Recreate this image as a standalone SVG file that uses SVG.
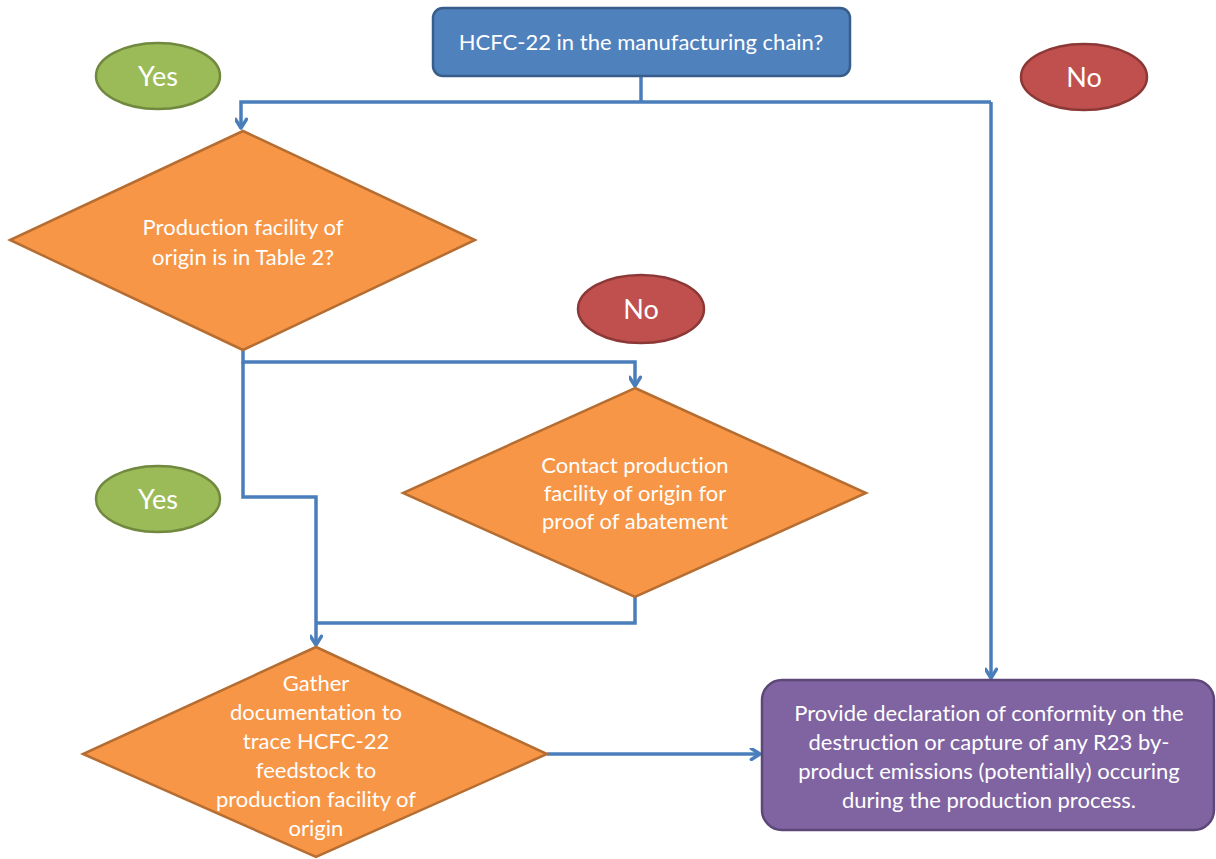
<svg xmlns="http://www.w3.org/2000/svg" width="1216" height="859" viewBox="0 0 1216 859">
<defs>
<marker id="arr" viewBox="0 0 12 12" refX="10" refY="6" markerWidth="13" markerHeight="13" markerUnits="userSpaceOnUse" orient="auto">
<path d="M2,1 L10,6 L2,11" fill="none" stroke="#4A7EBB" stroke-width="3.2" stroke-linecap="round" stroke-linejoin="round"/>
</marker>
</defs>
<style>
text{font-family:Lato,"Open Sans","Liberation Sans",sans-serif;fill:#fff;text-anchor:middle;font-variant-ligatures:none;font-feature-settings:"liga" 0}
.t{font-size:22px}
.lbl{font-size:27px}
.blue{fill:#4F81BD;stroke:#385D8A;stroke-width:2.5}
.dia{fill:#F79646;stroke:#B66D31;stroke-width:2.5}
.pur{fill:#8064A2;stroke:#5C4776;stroke-width:2.5}
.yes{fill:#9BBB59;stroke:#71893F;stroke-width:2.5}
.no{fill:#C0504D;stroke:#8C3836;stroke-width:2.5}
.c{fill:none;stroke:#4A7EBB;stroke-width:3.5;stroke-linejoin:miter}
</style>
<rect width="1216" height="859" fill="#fff"/>
<g id="connectors">
<path class="c" d="M641,76 V102"/>
<path class="c" d="M991,102 H241 V128" marker-end="url(#arr)"/>
<path class="c" d="M991,102 V678" marker-end="url(#arr)"/>
<path class="c" d="M243,350 V362 H635 V386" marker-end="url(#arr)"/>
<path class="c" d="M243,362 V497 H316 V645" marker-end="url(#arr)"/>
<path class="c" d="M635,597 V623 H316"/>
<path class="c" d="M547,754 H760" marker-end="url(#arr)"/>
</g>
<g id="start">
<rect class="blue" x="433" y="8" width="417" height="68" rx="10"/>
<text class="t" x="641" y="50">HCFC-22 in the manufacturing chain?</text>
</g>
<g id="yes1">
<ellipse class="yes" cx="158" cy="76" rx="62" ry="33"/>
<text class="lbl" x="158" y="86">Yes</text>
</g>
<g id="no1">
<ellipse class="no" cx="1084" cy="77" rx="63" ry="33"/>
<text class="lbl" x="1084" y="87">No</text>
</g>
<g id="decision1">
<polygon class="dia" points="243,131 475,240 243,350 10,240"/>
<text class="t"><tspan x="243" y="235">Production facility of</tspan><tspan x="243" y="265">origin is in Table 2?</tspan></text>
</g>
<g id="no2">
<ellipse class="no" cx="641" cy="309" rx="63" ry="34"/>
<text class="lbl" x="641" y="319">No</text>
</g>
<g id="yes2">
<ellipse class="yes" cx="158" cy="499" rx="62" ry="33"/>
<text class="lbl" x="158" y="509">Yes</text>
</g>
<g id="decision2">
<polygon class="dia" points="635,388 866,493 635,597 403,493"/>
<text class="t"><tspan x="635" y="473">Contact production</tspan><tspan x="635" y="501">facility of origin for</tspan><tspan x="635" y="529">proof of abatement</tspan></text>
</g>
<g id="decision3">
<polygon class="dia" points="316,647 547,754 316,857 83,754"/>
<text class="t"><tspan x="316" y="691">Gather</tspan><tspan x="316" y="720">documentation to</tspan><tspan x="316" y="749">trace HCFC-22</tspan><tspan x="316" y="778">feedstock to</tspan><tspan x="316" y="807">production facility of</tspan><tspan x="316" y="836">origin</tspan></text>
</g>
<g id="declaration">
<rect class="pur" x="762" y="680" width="452" height="150" rx="20"/>
<text class="t"><tspan x="989" y="721">Provide declaration of conformity on the</tspan><tspan x="989" y="750">destruction or capture of any R23 by-</tspan><tspan x="989" y="779">product emissions (potentially) occuring</tspan><tspan x="989" y="808">during the production process.</tspan></text>
</g>
</svg>
